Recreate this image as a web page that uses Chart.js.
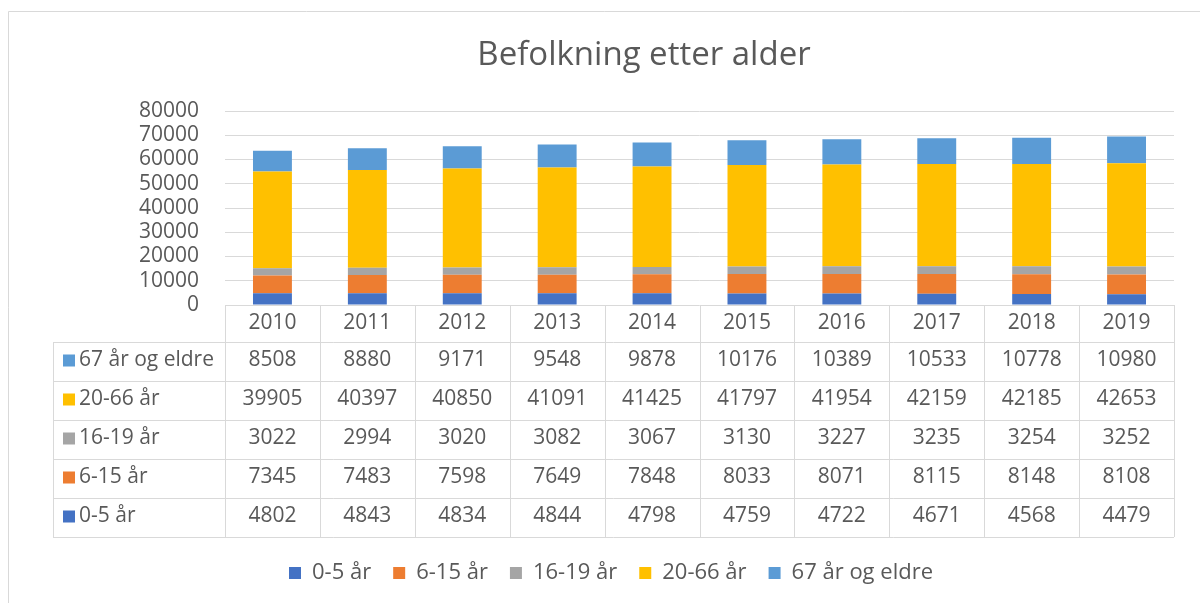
<!DOCTYPE html>
<html><head><meta charset="utf-8">
<script src="https://cdn.jsdelivr.net/npm/chart.js@4.4.0/dist/chart.umd.min.js"></script>
<style>html,body{margin:0;padding:0;background:#fff;}#wrap{width:1200px;height:603px;position:relative;}</style>
</head><body><div id="wrap"><canvas id="c" width="1200" height="603"></canvas></div>
<script>
const chartTitle = 'Befolkning etter alder';
const years = ['2010','2011','2012','2013','2014','2015','2016','2017','2018','2019'];
const seriesNames = ['0-5 år','6-15 år','16-19 år','20-66 år','67 år og eldre'];
const age0to5   = [4802,4843,4834,4844,4798,4759,4722,4671,4568,4479];
const age6to15  = [7345,7483,7598,7649,7848,8033,8071,8115,8148,8108];
const age16to19 = [3022,2994,3020,3082,3067,3130,3227,3235,3254,3252];
const age20to66 = [39905,40397,40850,41091,41425,41797,41954,42159,42185,42653];
const age67plus = [8508,8880,9171,9548,9878,10176,10389,10533,10778,10980];
const yTickValues = [0,10000,20000,30000,40000,50000,60000,70000,80000];

const seriesValues = [age0to5, age6to15, age16to19, age20to66, age67plus];
const seriesColors = ['#4472C4','#ED7D31','#A5A5A5','#FFC000','#5B9BD5'];
const FONT = '"Open Sans", "Liberation Sans", sans-serif';
const TEXT = '#595959';
const LINE = '#d9d9d9';
const FS = 21;

const frame = {
  id: 'frame',
  beforeDraw(chart) {
    const ctx = chart.ctx;
    ctx.save();
    ctx.fillStyle = '#fff';
    ctx.fillRect(0, 0, chart.width, chart.height);
    ctx.strokeStyle = LINE;
    ctx.lineWidth = 1;
    ctx.beginPath();
    ctx.moveTo(8.5, chart.height);
    ctx.lineTo(8.5, 11.5);
    ctx.lineTo(chart.width, 11.5);
    ctx.stroke();
    ctx.fillStyle = TEXT;
    ctx.font = '33px ' + FONT;
    ctx.textAlign = 'center';
    ctx.textBaseline = 'middle';
    ctx.fillText(chartTitle, 644, 56);
    ctx.restore();
  }
};

const dataTable = {
  id: 'dataTable',
  afterDraw(chart) {
    const ctx = chart.ctx, x = chart.scales.x, ca = chart.chartArea;
    const n = years.length;
    const step = x.getPixelForValue(1) - x.getPixelForValue(0);
    const colLeft = x.getPixelForValue(0) - step / 2;
    const colRight = x.getPixelForValue(n - 1) + step / 2;
    const headTop = ca.bottom, headBot = ca.bottom + 37, rowH = 39;
    const tableLeft = 53;
    const nRows = seriesNames.length;
    const tableBot = headBot + rowH * nRows;
    ctx.save();
    ctx.strokeStyle = LINE;
    ctx.lineWidth = 1;
    ctx.beginPath();
    for (let i = 0; i <= n; i++) {
      const px = Math.round(colLeft + step * i) + 0.5;
      ctx.moveTo(px, headTop);
      ctx.lineTo(px, tableBot);
    }
    ctx.moveTo(tableLeft + 0.5, headBot);
    ctx.lineTo(tableLeft + 0.5, tableBot);
    for (let r = 0; r <= nRows; r++) {
      const py = Math.round(headBot + rowH * r) + 0.5;
      ctx.moveTo(tableLeft, py);
      ctx.lineTo(colRight, py);
    }
    ctx.stroke();

    ctx.fillStyle = TEXT;
    ctx.font = FS + 'px ' + FONT;
    ctx.textBaseline = 'middle';
    ctx.textAlign = 'center';
    years.forEach((yr, i) => {
      ctx.fillText(yr, x.getPixelForValue(i), (headTop + headBot) / 2);
    });
    for (let r = 0; r < nRows; r++) {
      const s = nRows - 1 - r;
      const cy = headBot + rowH * r + rowH / 2 - 1;
      ctx.fillStyle = seriesColors[s];
      ctx.fillRect(63, cy - 6, 12, 12);
      ctx.fillStyle = TEXT;
      ctx.textAlign = 'left';
      ctx.fillText(seriesNames[s], 79, cy);
      ctx.textAlign = 'center';
      seriesValues[s].forEach((v, i) => {
        ctx.fillText(String(v), x.getPixelForValue(i), cy);
      });
    }
    ctx.restore();
  }
};

new Chart(document.getElementById('c'), {
  type: 'bar',
  data: {
    labels: years,
    datasets: seriesNames.map((name, i) => ({
      label: name,
      data: seriesValues[i],
      backgroundColor: seriesColors[i],
      borderWidth: 0,
      categoryPercentage: 1,
      barPercentage: 0.41
    }))
  },
  options: {
    responsive: false,
    devicePixelRatio: 1,
    animation: false,
    layout: { padding: { left: 48, right: 26, top: 111, bottom: 9 } },
    plugins: {
      title: { display: false },
      legend: {
        position: 'bottom',
        labels: {
          color: TEXT,
          font: { family: FONT, size: 22 },
          boxWidth: 12,
          boxHeight: 12,
          padding: 22
        }
      },
      tooltip: { enabled: false }
    },
    scales: {
      x: {
        stacked: true,
        grid: { display: false },
        border: { display: false },
        ticks: { display: false },
        afterFit(scale) { scale.height = 235; }
      },
      y: {
        stacked: true,
        min: 0,
        max: 80000,
        afterBuildTicks(scale) { scale.ticks = yTickValues.map(v => ({ value: v })); },
        grid: { color: LINE, drawTicks: false },
        border: { display: false },
        ticks: {
          color: TEXT,
          font: { family: FONT, size: FS },
          padding: 26,
          autoSkip: false,
          callback: (v) => String(v)
        },
        afterFit(scale) { scale.width = 177; }
      }
    }
  },
  plugins: [frame, dataTable]
});
</script>
</body></html>
